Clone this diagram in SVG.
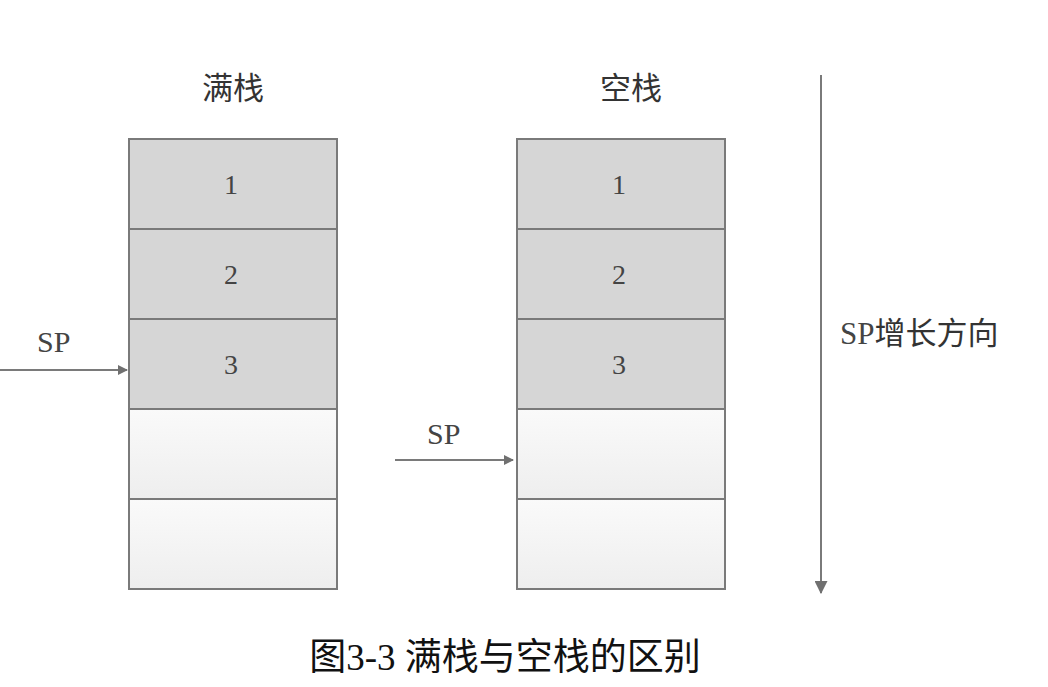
<svg xmlns="http://www.w3.org/2000/svg" width="1048" height="687" viewBox="0 0 1048 687">
<defs>
<linearGradient id="light" x1="0" y1="0" x2="0" y2="1">
<stop offset="0" stop-color="#fafafa"/>
<stop offset="1" stop-color="#eeeeee"/>
</linearGradient>
<marker id="ah" viewBox="0 0 10 10" refX="9" refY="5" markerWidth="10" markerHeight="10" markerUnits="userSpaceOnUse" orient="auto">
<path d="M0,0 L10,5 L0,10 Z" fill="#707070"/>
</marker>
<marker id="ahb" viewBox="0 0 12 12" refX="11" refY="6" markerWidth="13" markerHeight="13" markerUnits="userSpaceOnUse" orient="auto">
<path d="M0,0 L12,6 L0,12 Z" fill="#707070"/>
</marker>
</defs>
<style>
.full{fill:#d6d6d6;stroke:#7a7a7a;stroke-width:2}
.empty{fill:url(#light);stroke:#7a7a7a;stroke-width:2}
.num{font-family:"Liberation Serif",serif;font-size:28px;fill:#444;text-anchor:middle}
.sp{font-family:"Liberation Serif",serif;font-size:30px;fill:#444}
.cn{font-family:"Noto Sans CJK SC",sans-serif;font-size:31px;fill:#333}
.cap{font-family:"Liberation Serif","Noto Sans CJK SC",serif;font-size:37px;fill:#111;text-anchor:middle}
.line{stroke:#7a7a7a;stroke-width:2;fill:none}
</style>
<text class="cn" x="233" y="99" text-anchor="middle">满栈</text>
<text class="cn" x="631" y="99" text-anchor="middle">空栈</text>
<g id="full-stack">
<g id="f1"><rect class="full" x="129" y="139" width="208" height="90"/><text class="num" x="231" y="194">1</text></g>
<g id="f2"><rect class="full" x="129" y="229" width="208" height="90"/><text class="num" x="231" y="284">2</text></g>
<g id="f3"><rect class="full" x="129" y="319" width="208" height="90"/><text class="num" x="231" y="374">3</text></g>
<g id="f4"><rect class="empty" x="129" y="409" width="208" height="90"/></g>
<g id="f5"><rect class="empty" x="129" y="499" width="208" height="90"/></g>
</g>
<g id="empty-stack">
<g id="e1"><rect class="full" x="517" y="139" width="208" height="90"/><text class="num" x="619" y="194">1</text></g>
<g id="e2"><rect class="full" x="517" y="229" width="208" height="90"/><text class="num" x="619" y="284">2</text></g>
<g id="e3"><rect class="full" x="517" y="319" width="208" height="90"/><text class="num" x="619" y="374">3</text></g>
<g id="e4"><rect class="empty" x="517" y="409" width="208" height="90"/></g>
<g id="e5"><rect class="empty" x="517" y="499" width="208" height="90"/></g>
</g>
<g id="labels">
<text class="sp" x="37" y="352">SP</text>
<text class="sp" x="427" y="444">SP</text>
<text class="cn" x="840" y="344"><tspan font-family="Liberation Serif,serif" fill="#444" font-size="31">SP</tspan>增长方向</text>
</g>
<g id="connectors">
<line class="line" x1="0" y1="370" x2="127" y2="370" marker-end="url(#ah)"/>
<line class="line" x1="395" y1="460" x2="513" y2="460" marker-end="url(#ah)"/>
<line class="line" x1="821" y1="75" x2="821" y2="593" marker-end="url(#ahb)"/>
</g>
<text class="cap" x="505" y="670">图3-3 满栈与空栈的区别</text>
</svg>
